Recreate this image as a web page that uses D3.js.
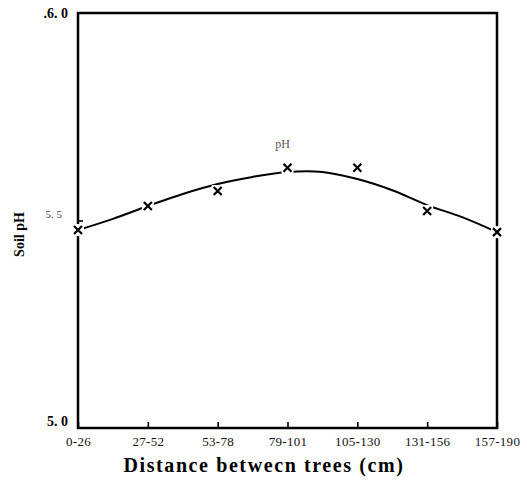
<!DOCTYPE html>
<html><head><meta charset="utf-8">
<script src="https://cdn.jsdelivr.net/npm/d3@7"></script>
<style>body{margin:0;background:#fff}svg{display:block}</style>
</head><body>
<script>
const categories = ["0-26","27-52","53-78","79-101","105-130","131-156","157-190"];
const phValues = [5.477, 5.535, 5.571, 5.627, 5.627, 5.523, 5.472];
// fitted curve read at half-category steps
const curvePos = [0,0.5,1,1.5,2,2.5,3,3.5,4,4.5,5,5.5,6];
const curveVals = [5.477,5.504,5.535,5.564,5.588,5.605,5.617,5.617,5.600,5.573,5.537,5.508,5.472];
const yTicks = [5.0, 5.5, 6.0];
const yTickLabels = ["5. 0", "5. 5", ".6. 0"];

const W = 527, H = 482;
const L = 78, R = 497, T = 13, B = 428;
const svg = d3.select("body").append("svg").attr("width", W).attr("height", H);

const x = d3.scaleLinear().domain([0, categories.length - 1]).range([L, R]);
const y = d3.scaleLinear().domain([5.0, 6.0]).range([B, T]);

// frame
svg.append("rect").attr("x", L).attr("y", T).attr("width", R - L).attr("height", B - T)
  .attr("fill", "none").attr("stroke", "#000").attr("stroke-width", 2.5);

// bottom axis ticks (inside)
const xAxis = d3.axisBottom(x).tickValues(d3.range(categories.length))
  .tickFormat(i => categories[i]).tickSizeInner(-6).tickSizeOuter(0).tickPadding(9);
const gx = svg.append("g").attr("transform", `translate(0,${B})`).call(xAxis);
gx.select(".domain").remove();
gx.selectAll(".tick line").attr("stroke", "#000").attr("stroke-width", 1.6);
gx.selectAll(".tick text").attr("font-family", "Liberation Serif, serif")
  .attr("font-size", 13).attr("letter-spacing", 0.3).attr("fill", "#111");

// left axis
const yAxis = d3.axisLeft(y).tickValues(yTicks)
  .tickFormat((d, i) => yTickLabels[i]).tickSizeInner(-5).tickSizeOuter(0).tickPadding(10);
const gy = svg.append("g").attr("transform", `translate(${L},0)`).call(yAxis);
gy.select(".domain").remove();
gy.selectAll(".tick line").attr("stroke", "#000").attr("stroke-width", 1.6)
  .attr("opacity", d => d === 5.5 ? 1 : 0);
gy.selectAll(".tick text").attr("font-family", "Liberation Serif, serif")
  .attr("font-size", d => d === 5.5 ? 11 : 14)
  .attr("font-weight", d => d === 5.5 ? "normal" : "bold")
  .attr("fill", d => d === 5.5 ? "#444" : "#000")
  .attr("dx", d => d === 5.5 ? -6 : 0)
  .attr("dy", d => d === 5.5 ? "-0.3em" : (d === 5.0 ? "-0.2em" : "0.3em"));

// fitted curve
const line = d3.line().x((d, i) => x(curvePos[i])).y(d => y(d)).curve(d3.curveCatmullRom);
svg.append("path").datum(curveVals).attr("d", line)
  .attr("fill", "none").attr("stroke", "#000").attr("stroke-width", 2);

// x markers
const s = 4;
const m = svg.append("g").selectAll("g").data(phValues).join("g")
  .attr("transform", (d, i) => `translate(${x(i)},${y(d)})`);
m.append("rect").attr("x", -6).attr("y", -6).attr("width", 12).attr("height", 12).attr("fill", "#fff");
m.append("path").attr("d", `M${-s},${-s}L${s},${s}M${-s},${s}L${s},${-s}`)
  .attr("stroke", "#000").attr("stroke-width", 2.2);

// series label
svg.append("text").attr("x", x(3) - 5).attr("y", y(5.627) - 20)
  .attr("font-family", "Liberation Serif, serif").attr("font-size", 12).attr("fill", "#555")
  .attr("text-anchor", "middle").text("pH");

// axis titles
svg.append("text").attr("transform", `translate(24,${(T + B) / 2 + 14}) rotate(-90)`)
  .attr("text-anchor", "middle").attr("font-family", "Liberation Serif, serif")
  .attr("font-size", 14).attr("font-weight", "bold").text("Soil pH");
svg.append("text").attr("x", 264).attr("y", 472).attr("text-anchor", "middle")
  .attr("font-family", "Liberation Serif, serif").attr("font-size", 20)
  .attr("font-weight", "bold").attr("letter-spacing", 1.6).text("Distance betwecn trees (cm)");
</script>
</body></html>
